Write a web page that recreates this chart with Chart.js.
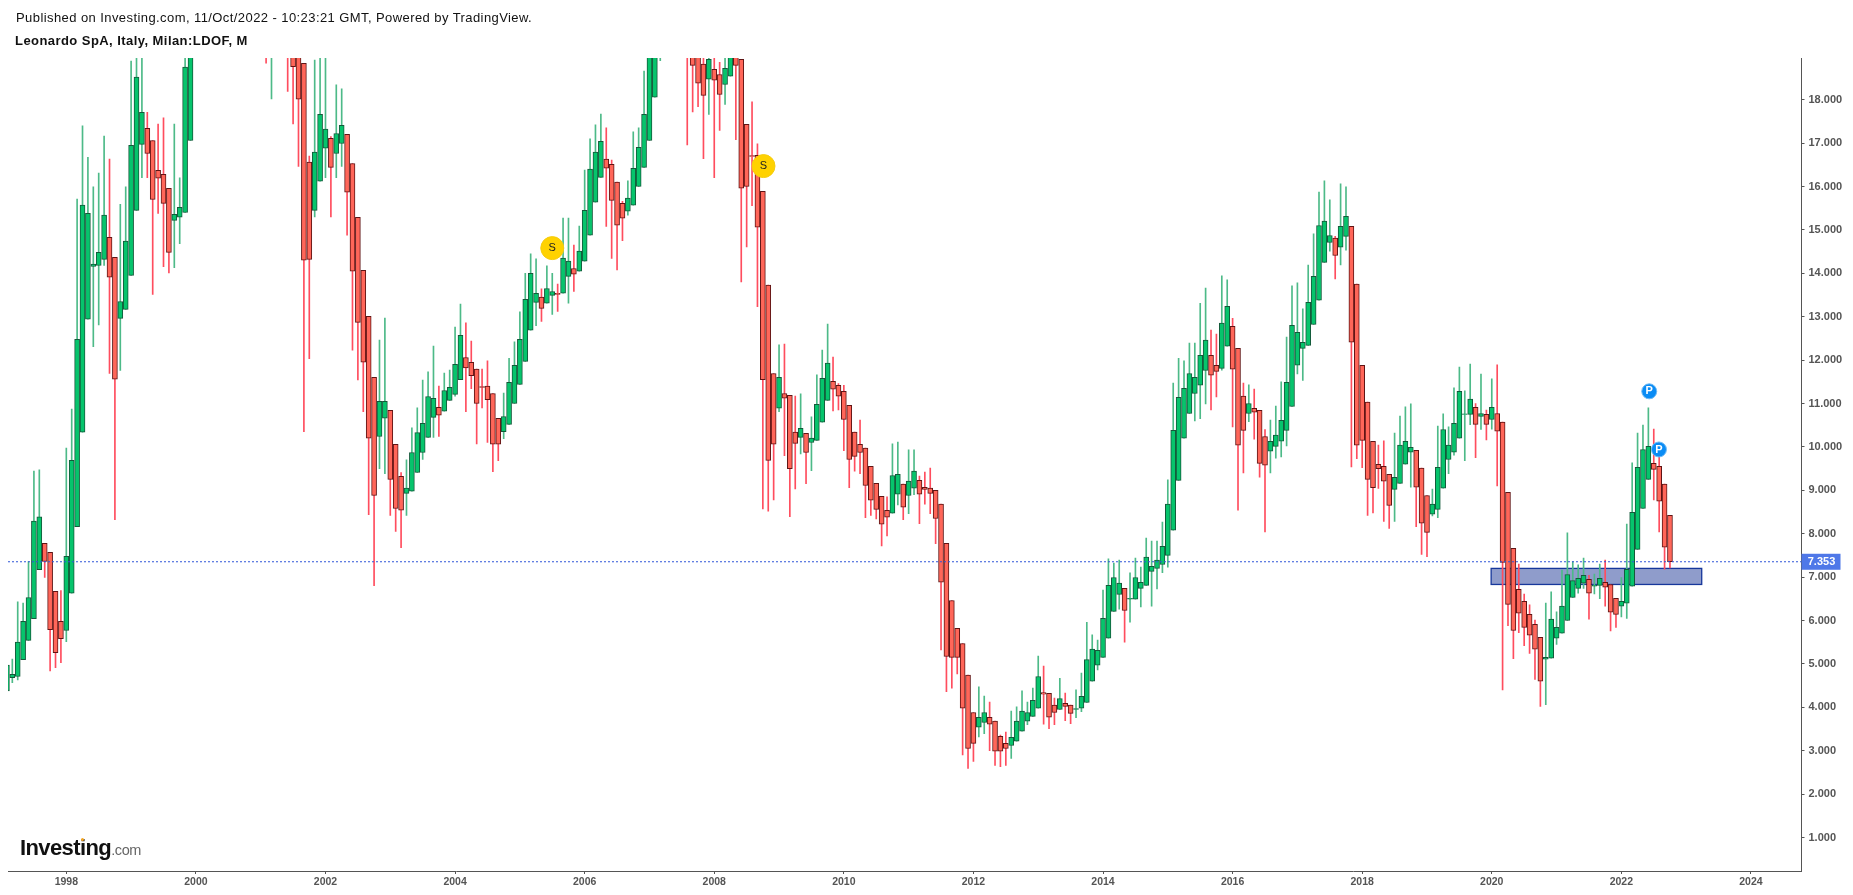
<!DOCTYPE html>
<html>
<head>
<meta charset="utf-8">
<title>Leonardo SpA</title>
<script src="https://cdn.jsdelivr.net/npm/chart.js@4"></script>
<style>
    html, body { margin: 0; padding: 0; background: #fff; overflow: hidden; }
    body { width: 1853px; height: 895px; position: relative; font-family: "Liberation Sans", Arial, sans-serif; }
    #myChart { position: absolute; left: 0; top: 0; }
    .head { position: absolute; left: 16px; color: #111; white-space: nowrap; }
    #published { top: 10px; font-size: 13px; letter-spacing: 0.42px; }
    #symbol { top: 33px; left: 15px; font-size: 13px; font-weight: bold; letter-spacing: 0.44px; }
    #logo { position: absolute; left: 20px; top: 835px; font-size: 22px; font-weight: bold; letter-spacing: -0.6px; color: #111; white-space: nowrap; }
    #logo span { font-size: 14.5px; font-weight: normal; color: #666; letter-spacing: -0.4px; }
    #dot { position: absolute; left: 81px; top: 838px; width: 3px; height: 3px; border-radius: 2px; background: #f5a623; }
</style>
</head>
<body>
<canvas id="myChart" width="1853" height="895"></canvas>
<div class="head" id="published">Published on Investing.com, 11/Oct/2022 - 10:23:21 GMT, Powered by TradingView.</div>
<div class="head" id="symbol">Leonardo SpA, Italy, Milan:LDOF, M</div>
<div id="logo">Investing<span>.com</span></div>
<div id="dot"></div>
<script>
// monthly candles, Feb 1997 to Oct 2022, one row per year
// 2000-2001 and 2007 tops run off the top of the picture, those are rough guesses
const opens = [
    4.38,4.68,4.71,5.10,5.54,6.04,7.17,7.78,7.57,6.67,5.98,
    5.77,6.63,8.16,10.34,12.94,14.16,14.18,14.32,14.83,14.37,12.96,13.17,
    13.95,15.45,16.97,17.34,17.06,16.37,16.28,15.96,15.22,15.29,15.40,17.06,
    20.4,23.5,26,29,26.5,25,26.5,25.5,27,25.5,24.5,25.5,
    24,22.5,21.5,22,23,22,21,19.5,18.84,16.56,15.45,16.12,
    16.88,17.11,16.76,16.99,17.2,16.53,15.29,14.07,13.01,11.6,10.24,10.66,
    10.84,10.06,9.32,8.93,8.98,9.41,9.87,10.22,10.68,10.91,10.82,11.07,
    11.21,11.55,12.06,11.95,11.79,11.39,11.4,11.23,10.66,10.35,10.52,11.0,
    11.44,11.97,12.69,13.33,13.45,13.31,13.49,13.54,13.54,13.93,14.11,14.05,
    14.28,14.88,15.64,16.21,16.63,16.51,16.1,15.61,15.43,15.57,16.0,16.44,
    17.06,18.06,19.6,20.5,21.5,22.5,22,21,20,19.8,18.82,18.47,
    18.7,18.58,18.35,18.54,19.2,18.93,17.43,16.71,16.72,15.89,13.73,11.69,
    10.89,11.23,11.19,10.34,10.22,10.31,10.1,10.15,10.57,11.07,11.51,11.42,
    11.28,10.96,10.34,10.06,9.97,9.55,9.16,8.86,8.54,8.47,8.91,9.14,
    8.88,9.05,9.23,9.07,9.05,9.0,8.68,7.78,6.46,5.82,5.47,4.74,
    3.88,3.54,3.65,3.77,3.68,3.33,3.17,3.12,3.22,3.45,3.68,3.79,
    3.98,4.34,4.32,4.05,3.95,4.09,4.05,3.95,3.98,4.11,4.6,4.97,
    5.15,5.59,6.21,6.6,6.74,6.49,6.49,6.74,6.81,7.13,7.2,7.29,
    7.5,8.08,9.23,10.2,10.77,11.23,11.42,11.76,12.11,11.88,11.81,12.32,
    12.78,12.27,11.17,10.77,10.89,10.84,10.24,9.9,10.01,10.13,10.38,10.93,
    11.88,12.27,12.34,12.82,13.38,14.25,14.71,14.81,14.6,14.85,15.08,13.75,
    11.88,11.03,10.13,9.6,9.55,9.37,9.02,9.16,9.6,9.88,9.92,9.51,
    8.88,8.45,8.56,9.05,9.71,9.88,10.2,10.75,10.75,10.91,10.7,10.75,
    10.63,10.77,10.57,8.95,7.66,6.72,6.44,6.14,5.91,5.61,5.11,5.13,
    5.59,5.71,6.0,6.53,6.74,6.86,6.95,6.79,6.81,6.88,6.83,6.51,
    6.33,6.4,6.79,7.64,8.58,9.25,9.62,9.55,9.14,8.42
];
const closes = [
    4.97,4.76,5.50,5.98,6.53,8.29,8.39,7.36,5.79,5.26,5.58,
    7.48,9.69,12.48,15.57,15.38,14.21,14.48,15.34,13.91,11.56,13.35,14.74,
    16.95,18.52,17.71,16.76,15.70,16.19,15.61,14.48,15.36,15.52,18.75,20.4,
    23.5,26,29,26.5,25,26.5,25.5,27,25.5,24.5,25.5,24,
    22.5,21.5,22,23,22,21,18.76,18.01,14.30,14.32,16.79,17.66,
    17.32,16.44,17.22,17.41,15.87,14.05,12.87,11.95,10.2,8.88,11.05,11.05,
    9.25,8.58,8.54,9.05,9.87,10.33,10.54,11.16,11.12,10.73,11.3,11.37,
    11.9,12.57,11.82,11.64,11.0,11.37,11.09,10.06,10.06,10.7,11.49,11.88,
    12.48,13.4,14.0,13.54,13.19,13.65,13.58,13.51,14.35,14.28,13.98,14.51,
    15.45,16.4,16.79,17.04,16.42,15.68,15.11,15.27,15.73,16.42,16.9,17.66,
    19.5,19.9,20.5,21.5,22.5,22,21,20,18.79,18.38,18.1,18.93,
    18.45,18.12,18.72,19.1,18.79,15.96,16.0,16.69,15.06,11.55,9.69,10.06,
    11.6,11.12,9.5,10.08,10.43,9.87,10.2,10.98,11.58,11.93,11.33,11.17,
    10.63,9.71,9.78,9.87,9.11,8.77,8.56,8.22,8.38,9.34,9.37,8.61,
    9.21,9.44,8.91,9.02,8.93,8.35,6.88,5.17,5.15,5.15,3.98,3.05,
    3.17,3.77,3.88,3.61,2.99,2.99,3.05,3.31,3.68,3.91,3.88,4.16,
    4.71,4.3,3.77,3.88,4.2,4.02,3.86,3.97,4.25,5.1,5.34,5.31,
    6.05,6.81,6.99,6.86,6.23,6.51,6.99,6.88,7.46,7.25,7.39,7.71,
    8.68,10.38,11.14,11.35,11.69,11.6,12.11,12.46,11.65,11.74,12.85,13.24,
    11.79,10.04,10.38,11.0,10.8,9.62,9.58,10.13,10.27,10.61,11.49,12.8,
    12.64,12.41,13.33,13.93,15.1,15.2,14.87,14.41,15.08,15.31,12.41,10.04,
    10.15,9.25,9.06,9.5,9.21,8.65,9.3,10.04,10.13,9.99,9.07,8.24,
    8.03,8.68,9.53,10.4,10.04,10.54,11.28,10.76,11.1,10.52,10.77,10.52,
    10.91,10.36,7.34,6.37,5.77,6.17,5.84,5.66,5.34,4.6,5.15,6.03,
    5.84,6.33,7.06,6.92,6.97,7.04,6.63,6.81,6.97,6.77,6.19,6.14,
    6.44,7.18,8.49,9.53,9.94,10.01,9.48,8.75,7.69,7.353
];
const highs = [
    5.0,5.11,6.43,6.40,7.36,9.44,9.47,7.78,7.57,6.67,6.69,
    9.97,10.87,15.71,17.4,16.67,15.99,16.31,17.16,16.63,14.37,15.59,15.99,
    18.89,19.4,19.2,17.71,17.06,17.44,17.58,15.96,17.44,16.2,19.6,21.5,
    25,27.5,31,29.5,27.5,28,27.5,28.5,27.5,26.5,26.5,26,
    24.5,23,23,24,23.5,22.5,21.5,20,18.84,16.7,18.91,19.2,
    19.1,17.15,18.34,18.25,17.2,16.53,15.29,14.07,13.01,11.6,12.46,12.97,
    10.84,10.06,9.41,9.7,10.44,10.9,11.54,11.73,12.32,11.4,11.7,11.77,
    12.76,13.29,12.86,12.44,11.79,11.79,11.98,11.23,10.66,11.24,12.04,12.42,
    13.11,14.0,14.45,14.33,13.64,14.17,14.0,13.75,15.27,15.27,14.65,15.09,
    16.38,17.1,17.42,17.67,17.35,16.61,16.1,15.66,16.13,17.26,17.35,18.66,
    20,20.5,21,22.5,23.5,23.5,22.5,21.5,20.5,20.2,19.6,19.4,
    19.3,18.86,19.2,19.4,19.6,18.93,17.43,17.95,16.98,15.89,13.73,11.69,
    12.35,12.37,11.19,11.17,11.22,10.31,10.69,11.66,12.23,12.83,12.07,11.46,
    11.42,10.96,10.34,10.62,9.97,9.55,9.16,8.86,8.85,10.07,10.11,9.14,
    9.93,9.93,9.33,9.42,9.51,9.0,8.68,7.78,6.46,5.82,5.47,4.74,
    3.88,4.47,4.26,4.12,3.68,3.36,3.43,3.91,4.01,4.38,4.12,4.44,
    5.18,4.95,4.32,4.21,4.67,4.33,4.05,4.4,4.79,5.96,5.67,5.55,
    6.7,7.42,7.32,7.39,6.74,7.1,7.44,7.23,7.9,7.83,7.83,8.27,
    9.24,11.47,12.04,11.98,12.39,12.39,13.31,13.66,12.69,12.6,13.94,13.85,
    12.96,12.27,11.47,11.43,11.33,10.84,10.4,10.62,10.94,11.5,12.53,13.71,
    13.78,13.18,14.19,14.91,15.87,16.13,15.69,14.85,16.06,15.99,15.08,13.75,
    11.88,11.03,10.13,10.04,10.14,9.37,10.32,10.71,10.92,10.99,9.92,9.51,
    8.88,9.03,10.48,10.76,10.46,11.36,11.84,11.29,11.91,11.0,11.68,10.85,
    11.57,11.89,10.57,8.95,7.66,7.3,6.61,6.36,6.01,5.61,6.4,6.66,
    6.2,7.16,8.02,7.36,7.28,7.44,7.04,7.07,7.3,7.39,6.83,6.51,
    6.99,8.22,9.63,10.32,10.5,10.9,10.41,9.93,9.14,8.42
];
const lows = [
    4.3,4.57,4.63,5.10,5.54,6.04,7.17,6.99,4.84,4.91,5.03,
    5.51,6.63,8.16,10.34,12.94,12.31,12.81,14.18,11.69,8.32,11.76,13.17,
    13.95,15.45,16.2,16.2,13.51,15.38,14.15,14.01,14.13,14.68,15.4,17.06,
    20,22.5,25,25,24,24,24.5,25,24.5,23.5,23.5,23,
    21.5,18.84,18.02,21,21,18.19,17.44,16.46,10.35,12.03,15.3,16.12,
    16.2,15.3,16.2,16.46,14.88,12.23,11.54,10.81,8.44,6.8,9.5,9.38,
    8.42,8.05,7.68,8.42,8.98,9.41,9.71,10.22,10.22,10.24,10.82,11.07,
    11.17,11.55,10.81,11.34,10.07,10.9,10.1,9.43,9.68,10.19,10.52,11.0,
    11.44,11.97,12.69,12.79,12.89,13.31,13.05,13.12,13.54,13.31,13.58,14.05,
    14.28,14.88,15.64,16.21,15.08,14.34,14.08,14.75,15.34,15.57,16.0,16.44,
    17.06,18.06,18.9,20,21,21,20,16.96,17.72,17.84,16.64,17.66,
    16.2,17.29,17.89,18.54,17.08,13.8,14.61,15.56,13.23,8.57,8.52,8.78,
    10.81,9.8,8.39,9.03,9.84,9.15,9.45,10.15,10.57,11.07,10.83,10.85,
    9.91,9.06,9.44,9.38,8.37,8.42,8.34,7.72,7.95,8.47,8.66,8.32,
    8.46,8.9,8.23,8.68,8.46,7.77,5.32,4.36,4.44,4.77,2.9,2.59,
    2.75,3.32,3.39,3.0,2.66,2.63,2.66,2.82,3.22,3.45,3.6,3.79,
    3.98,3.61,3.51,3.6,3.95,3.69,3.62,3.76,3.9,4.11,4.6,4.86,
    5.15,5.59,6.21,6.26,5.5,5.96,6.49,6.31,6.81,6.33,6.73,7.1,
    7.23,8.08,9.23,10.2,10.77,10.6,10.65,10.99,10.85,11.15,11.77,12.32,
    10.46,8.54,9.4,10.58,10.18,9.3,8.04,9.4,9.74,9.77,10.02,10.93,
    11.68,11.53,12.34,12.82,13.38,14.25,14.51,13.87,14.19,14.53,9.54,9.73,
    9.52,8.42,8.48,9.04,8.28,8.12,8.28,9.16,9.6,9.07,8.16,7.52,
    7.47,8.41,8.37,9.05,9.38,9.81,10.2,9.68,10.51,9.75,10.4,10.16,
    10.41,9.1,4.4,5.88,5.12,5.72,5.42,5.24,4.64,4.02,4.06,5.13,
    5.45,5.71,6.0,6.53,6.63,6.74,6.03,6.61,6.5,6.33,5.76,5.84,
    6.08,6.05,6.79,7.64,8.58,9.25,8.78,8.04,7.18,7.21
];
const yearTicks = [1998, 2000, 2002, 2004, 2006, 2008, 2010, 2012, 2014, 2016, 2018, 2020, 2022, 2024];
const priceTicks = [1, 2, 3, 4, 5, 6, 7, 8, 9, 10, 11, 12, 13, 14, 15, 16, 17, 18];
const lastPrice = 7.353;
const zoneYears = [2019.99, 2023.24];
const zonePrices = [6.83, 7.2];
const dividendYears = [2005.5, 2008.76];
const dividendPrices = [14.58, 16.47];
const pivotYears = [2022.43, 2022.58];
const pivotPrices = [11.28, 9.94];

const xMin = 1997.1;
const xMax = 2024.78;
const yMin = 0.228;
const yMax = 18.96;

const xs = opens.map(function (v, i) { return 1997 + (i + 1) / 12; });
const isUp = closes.map(function (c, i) { return c >= opens[i]; });

// zone box goes under the candles, labels and badge text on top of everything
const overlayPlugin = {
    id: "overlay",
    beforeDatasetsDraw: function (chart) {
        const c = chart.ctx;
        const x1 = chart.scales.x.getPixelForValue(zoneYears[0]);
        const x2 = chart.scales.x.getPixelForValue(zoneYears[1]);
        const y1 = chart.scales.y.getPixelForValue(zonePrices[1]);
        const y2 = chart.scales.y.getPixelForValue(zonePrices[0]);
        c.save();
        c.fillStyle = "#8f9ccb";
        c.fillRect(x1, y1, x2 - x1, y2 - y1);
        c.strokeStyle = "#17379b";
        c.lineWidth = 1.3;
        c.strokeRect(x1, y1, x2 - x1, y2 - y1);
        c.restore();
    },
    afterDraw: function (chart) {
        const c = chart.ctx;
        const xS = chart.scales.x;
        const yS = chart.scales.y;
        c.save();
        c.textAlign = "center";
        c.textBaseline = "middle";
        c.font = "11px 'Liberation Sans'";
        c.fillStyle = "#222";
        dividendYears.forEach(function (yr, i) {
            c.fillText("S", xS.getPixelForValue(yr), yS.getPixelForValue(dividendPrices[i]));
        });
        c.font = "bold 11px 'Liberation Sans'";
        c.fillStyle = "#fff";
        pivotYears.forEach(function (yr, i) {
            c.fillText("P", xS.getPixelForValue(yr), yS.getPixelForValue(pivotPrices[i]));
        });
        const yLast = yS.getPixelForValue(lastPrice);
        c.fillStyle = "#4f78e8";
        c.fillRect(chart.chartArea.right, yLast - 8, 39, 16);
        c.fillStyle = "#fff";
        c.fillText(lastPrice.toFixed(3), chart.chartArea.right + 20, yLast + 0.5);
        c.restore();
    },
};

const ctx = document.getElementById("myChart");

new Chart(ctx, {
    data: {
        datasets: [
            {
                type: "scatter",
                data: dividendYears.map(function (yr, i) { return { x: yr, y: dividendPrices[i] }; }),
                pointRadius: 11.5,
                pointBackgroundColor: "#ffd200",
                pointBorderColor: "#f5cc10",
                pointBorderWidth: 1,
                order: 0,
            },
            {
                type: "scatter",
                data: pivotYears.map(function (yr, i) { return { x: yr, y: pivotPrices[i] }; }),
                pointRadius: 7.5,
                pointBackgroundColor: "#0a8cf5",
                pointBorderColor: "#6fbaf5",
                pointBorderWidth: 1,
                order: 0,
            },
            {
                type: "line",
                data: [{ x: xMin, y: lastPrice }, { x: xMax, y: lastPrice }],
                borderColor: "#2f55d8",
                borderWidth: 1.2,
                borderDash: [2, 2],
                pointRadius: 0,
                order: 1,
            },
            {
                type: "bar",
                data: xs.map(function (x, i) { return { x: x, y: [opens[i], closes[i]] }; }),
                grouped: false,
                barThickness: 5,
                borderSkipped: false,
                borderWidth: 1,
                backgroundColor: isUp.map(function (up) { return up ? "#06c46c" : "#ff6659"; }),
                borderColor: isUp.map(function (up) { return up ? "#14593a" : "#5f1414"; }),
                order: 2,
            },
            {
                type: "bar",
                data: xs.map(function (x, i) { return { x: x, y: [lows[i], highs[i]] }; }),
                grouped: false,
                barThickness: 1,
                borderWidth: 0,
                backgroundColor: isUp.map(function (up) { return up ? "#4dba88" : "#ff4d5e"; }),
                order: 3,
            },
        ],
    },
    options: {
        responsive: false,
        animation: false,
        events: [],
        // autoPadding off, the big badge radius was pushing the plot area in
        layout: { autoPadding: false, padding: { left: 8, top: 58, right: 0, bottom: 0 } },
        plugins: {
            legend: { display: false },
            tooltip: { enabled: false },
        },
        scales: {
            x: {
                type: "linear",
                offset: false,
                min: xMin,
                max: xMax,
                afterBuildTicks: function (axis) {
                    axis.ticks = yearTicks.map(function (v) { return { value: v }; });
                },
                afterFit: function (axis) {
                    axis.height = 24;
                    axis.paddingLeft = 0;
                    axis.paddingRight = 0;
                },
                grid: { offset: false, drawOnChartArea: false, tickLength: 3, tickColor: "#555" },
                border: { color: "#555", width: 1 },
                ticks: {
                    autoSkip: false,
                    maxRotation: 0,
                    padding: 2,
                    color: "#555",
                    font: { family: "'Liberation Sans'", size: 10.5, weight: "bold" },
                    callback: function (v) { return String(v); },
                },
            },
            y: {
                type: "linear",
                position: "right",
                min: yMin,
                max: yMax,
                afterBuildTicks: function (axis) {
                    axis.ticks = priceTicks.map(function (v) { return { value: v }; });
                },
                afterFit: function (axis) { axis.width = 51.5; },
                grid: { drawOnChartArea: false, tickLength: 3, tickColor: "#555" },
                border: { color: "#555", width: 1 },
                ticks: {
                    autoSkip: false,
                    padding: 4,
                    color: "#555",
                    font: { family: "'Liberation Sans'", size: 11, weight: "bold" },
                    callback: function (v) { return v.toFixed(3); },
                },
            },
        },
    },
    plugins: [overlayPlugin],
});
</script>
</body>
</html>
